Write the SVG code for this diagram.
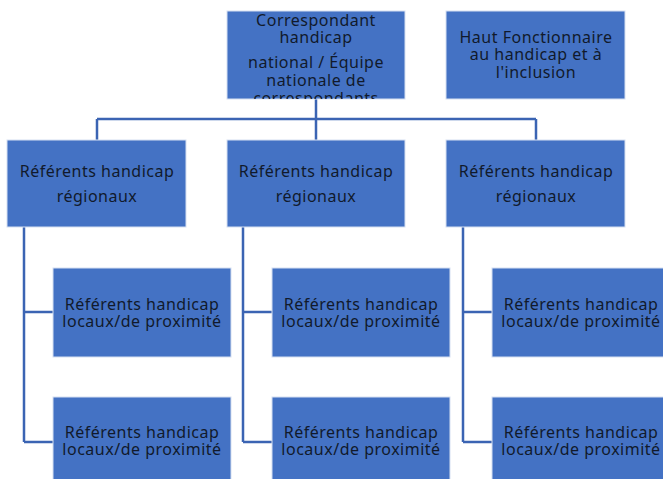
<svg xmlns="http://www.w3.org/2000/svg" width="663" height="479" viewBox="0 0 663 479">
<style>
.box{fill:#4472C4;stroke:#d6e0f1;stroke-width:1}
.t{font-family:"Noto Sans","DejaVu Sans",sans-serif;font-size:16px;letter-spacing:0.5px;fill:#111a2c;text-anchor:middle}
.c{fill:none;stroke:#3b64b3;stroke-width:2.5}
</style>
<defs>
<clipPath id="clipTop"><rect x="227" y="11" width="178" height="88"/></clipPath>
</defs>
<rect width="663" height="479" fill="#ffffff"/>
<g id="connectors">
<path class="c" d="M316,99 V119 M97,119 H536 M97,119 V140 M316,119 V140 M536,119 V140"/>
<path class="c" d="M24,227 V442 M24,312 H53 M24,442 H53"/>
<path class="c" d="M243,227 V442 M243,312 H272 M243,442 H272"/>
<path class="c" d="M463,227 V442 M463,312 H492 M463,442 H492"/>
</g>
<g id="national">
<rect class="box" x="227" y="11" width="178" height="88"/>
<g clip-path="url(#clipTop)">
<text class="t" x="316" y="26">Correspondant</text>
<text class="t" x="316" y="43">handicap</text>
<text class="t" x="316" y="68">national / Équipe</text>
<text class="t" x="316" y="86">nationale de</text>
<text class="t" x="316" y="104">correspondants</text>
</g>
</g>
<g id="haut">
<rect class="box" x="446" y="11" width="179" height="88"/>
<text class="t" x="536" y="43">Haut Fonctionnaire</text>
<text class="t" x="536" y="60">au handicap et à</text>
<text class="t" x="536" y="78">l'inclusion</text>
</g>
<g id="reg1">
<rect class="box" x="7" y="140" width="179" height="87"/>
<text class="t" x="97" y="177">Référents handicap</text>
<text class="t" x="97" y="202">régionaux</text>
</g>
<g id="reg2">
<rect class="box" x="227" y="140" width="178" height="87"/>
<text class="t" x="316" y="177">Référents handicap</text>
<text class="t" x="316" y="202">régionaux</text>
</g>
<g id="reg3">
<rect class="box" x="446" y="140" width="179" height="87"/>
<text class="t" x="536" y="177">Référents handicap</text>
<text class="t" x="536" y="202">régionaux</text>
</g>
<g id="loc1a">
<rect class="box" x="53" y="268" width="178" height="89"/>
<text class="t" x="142" y="310">Référents handicap</text>
<text class="t" x="142" y="327">locaux/de proximité</text>
</g>
<g id="loc1b">
<rect class="box" x="53" y="397" width="178" height="89"/>
<text class="t" x="142" y="438">Référents handicap</text>
<text class="t" x="142" y="455">locaux/de proximité</text>
</g>
<g id="loc2a">
<rect class="box" x="272" y="268" width="178" height="89"/>
<text class="t" x="361" y="310">Référents handicap</text>
<text class="t" x="361" y="327">locaux/de proximité</text>
</g>
<g id="loc2b">
<rect class="box" x="272" y="397" width="178" height="89"/>
<text class="t" x="361" y="438">Référents handicap</text>
<text class="t" x="361" y="455">locaux/de proximité</text>
</g>
<g id="loc3a">
<rect class="box" x="492" y="268" width="178" height="89"/>
<text class="t" x="581" y="310">Référents handicap</text>
<text class="t" x="581" y="327">locaux/de proximité</text>
</g>
<g id="loc3b">
<rect class="box" x="492" y="397" width="178" height="89"/>
<text class="t" x="581" y="438">Référents handicap</text>
<text class="t" x="581" y="455">locaux/de proximité</text>
</g>
</svg>
